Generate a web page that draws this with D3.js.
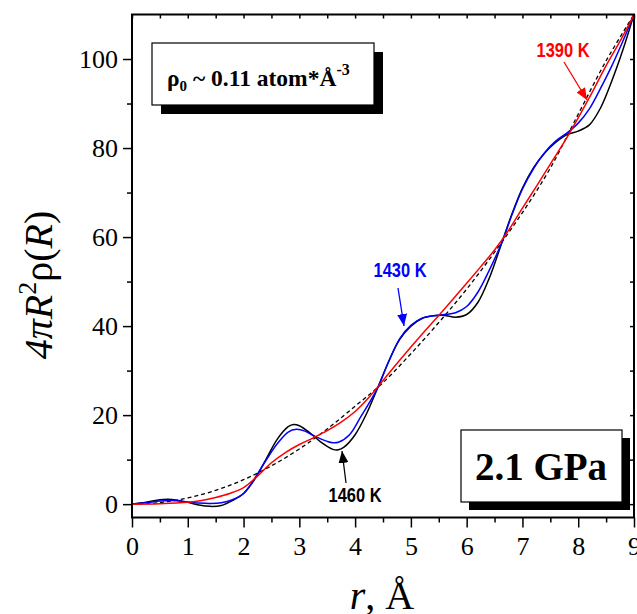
<!DOCTYPE html>
<html>
<head>
<meta charset="utf-8">
<script src="https://cdn.jsdelivr.net/npm/d3@7"></script>
<style>
  body { margin: 0; background: #fff; }
  svg { display: block; }
</style>
</head>
<body>
<svg width="637" height="614"></svg>
<script>
// 1460 K (black)
const r1460 = [0, 0.25, 0.5, 0.65, 0.8, 1.0, 1.2, 1.4, 1.6, 1.8, 2.0, 2.2, 2.4, 2.6, 2.8, 2.9, 3.0, 3.2, 3.4, 3.6, 3.7, 3.8, 4.0, 4.2, 4.4, 4.6, 4.8, 5.0, 5.2, 5.4, 5.6, 5.8, 6.0, 6.2, 6.4, 6.6, 6.8, 7.0, 7.2, 7.4, 7.6, 7.8, 8.0, 8.2, 8.4, 8.6, 8.8, 9.0];
const g1460 = [0, 0.4, 1.0, 1.1, 0.9, 0.4, -0.2, -0.5, -0.3, 0.8, 2.4, 5.6, 10.0, 14.5, 17.4, 17.9, 17.6, 15.9, 13.8, 12.3, 12.2, 12.8, 15.6, 20.2, 26.0, 32.0, 37.0, 40.0, 41.7, 42.3, 42.4, 42.0, 42.6, 45.3, 50.6, 57.6, 64.8, 71.0, 75.6, 78.9, 81.3, 83.0, 83.8, 85.2, 89.0, 95.0, 102.0, 110.0];

// 1430 K (blue)
const r1430 = [0, 0.25, 0.5, 0.7, 1.0, 1.2, 1.4, 1.6, 1.8, 2.0, 2.2, 2.4, 2.6, 2.8, 2.95, 3.1, 3.3, 3.5, 3.6, 3.7, 3.9, 4.1, 4.4, 4.6, 4.8, 5.0, 5.2, 5.4, 5.6, 5.8, 6.0, 6.2, 6.4, 6.65, 6.8, 7.0, 7.2, 7.4, 7.6, 7.8, 8.0, 8.2, 8.4, 8.6, 8.8, 9.0];
const g1430 = [0, 0.3, 0.7, 0.8, 0.5, 0.25, 0.15, 0.3, 1.0, 2.4, 5.8, 9.8, 13.5, 16.2, 16.8, 16.4, 15.1, 14.1, 13.8, 13.9, 15.6, 19.6, 26.0, 32.0, 37.2, 40.2, 41.8, 42.3, 42.6, 43.0, 44.4, 47.6, 52.4, 59.4, 64.6, 70.8, 75.4, 79.0, 81.6, 83.4, 85.6, 88.8, 93.4, 98.4, 104.0, 110.0];

// 1390 K (red)
const r1390 = [0, 0.5, 1.0, 1.25, 1.5, 1.75, 2.0, 2.25, 2.5, 2.75, 3.0, 3.25, 3.5, 3.75, 4.0, 4.25, 4.5, 4.75, 5.0, 5.25, 5.5, 5.75, 6.0, 6.25, 6.5, 6.75, 7.0, 7.25, 7.5, 7.75, 8.0, 8.25, 8.5, 8.75, 9.0];
const g1390 = [0, 0.1, 0.4, 0.8, 1.5, 2.4, 3.7, 6.3, 9.3, 11.6, 13.4, 14.9, 16.5, 18.4, 20.8, 24.0, 27.8, 31.6, 35.3, 38.9, 42.4, 46.0, 49.6, 53.3, 57.1, 61.5, 66.5, 71.4, 76.4, 81.4, 86.8, 92.5, 98.5, 104.0, 110.0];

// average density (dashed)
const rAvg = [0, 0.5, 1, 1.5, 2, 2.5, 3, 3.5, 4, 4.5, 5, 5.5, 6, 6.5, 7, 7.5, 8, 8.5, 9];
const gAvg = [0, 0.35, 1.4, 3.1, 5.5, 8.6, 12.4, 16.9, 22.0, 27.3, 33.8, 40.8, 48.3, 56.6, 65.5, 75.5, 87.6, 99.6, 110];

const xTicks = [0, 1, 2, 3, 4, 5, 6, 7, 8, 9];
const yTicks = [0, 20, 40, 60, 80, 100];

const svg = d3.select('svg');
const plotLeft = 132, plotRight = 634, plotTop = 14.5, plotBottom = 517.5;

const x = d3.scaleLinear().domain([0, 9]).range([plotLeft, plotRight]);
const y = d3.scaleLinear().domain([-3, 110]).range([plotBottom, plotTop]);

const serif = '"Liberation Serif", "Times New Roman", serif';
const sans = '"Liberation Sans", Arial, sans-serif';

const defs = svg.append('defs');
defs.append('clipPath').attr('id', 'plot')
    .append('rect')
    .attr('x', plotLeft).attr('y', plotTop)
    .attr('width', plotRight - plotLeft).attr('height', plotBottom - plotTop);

// curves
const line = d3.line()
    .x(function (d) { return x(d[0]); })
    .y(function (d) { return y(d[1]); })
    .curve(d3.curveCatmullRom.alpha(0.5));

const series = [
    {r: rAvg, g: gAvg, color: '#000', width: 1.3, dash: '4,3'},
    {r: r1460, g: g1460, color: '#000', width: 1.5},
    {r: r1430, g: g1430, color: '#0000ff', width: 1.5},
    {r: r1390, g: g1390, color: '#ff0000', width: 1.5}
];

const curves = svg.append('g').attr('clip-path', 'url(#plot)');
series.forEach(function (s) {
    curves.append('path')
        .datum(s.r.map(function (r, i) { return [r, s.g[i]]; }))
        .attr('d', line)
        .attr('fill', 'none')
        .attr('stroke', s.color)
        .attr('stroke-width', s.width)
        .attr('stroke-dasharray', s.dash || null);
});

// axes
function styleAxis(g) {
    g.select('.domain').remove();
    g.selectAll('line').attr('stroke', '#000').attr('stroke-width', 1.5);
    g.selectAll('text').attr('font-family', serif).attr('font-size', 26).attr('fill', '#000');
}

const xAxis = svg.append('g').attr('transform', `translate(0,${plotBottom})`)
    .call(d3.axisBottom(x).tickValues(xTicks).tickFormat(d3.format('d')).tickSize(10).tickPadding(10));
styleAxis(xAxis);
xAxis.selectAll('text').attr('dy', '0.71em').attr('y', 19);

svg.append('g').attr('transform', `translate(0,${plotBottom})`)
    .call(d3.axisBottom(x).tickValues(d3.range(0.5, 9, 1)).tickFormat('').tickSize(5))
    .call(styleAxis);

const yAxis = svg.append('g').attr('transform', `translate(${plotLeft},0)`)
    .call(d3.axisLeft(y).tickValues(yTicks).tickSize(9).tickPadding(5));
styleAxis(yAxis);

svg.append('g').attr('transform', `translate(${plotLeft},0)`)
    .call(d3.axisLeft(y).tickValues(d3.range(10, 110, 20)).tickFormat('').tickSize(5))
    .call(styleAxis);

// top and right: inward ticks
svg.append('g').attr('transform', `translate(0,${plotTop})`)
    .call(d3.axisTop(x).tickValues(d3.range(0, 9.01, 0.5)).tickFormat('').tickSize(-4))
    .call(styleAxis);
svg.append('g').attr('transform', `translate(${plotRight},0)`)
    .call(d3.axisRight(y).tickValues(d3.range(0, 110, 10)).tickFormat('').tickSize(-4))
    .call(styleAxis);

svg.append('rect')
    .attr('x', plotLeft).attr('y', plotTop)
    .attr('width', plotRight - plotLeft).attr('height', plotBottom - plotTop)
    .attr('fill', 'none').attr('stroke', '#000').attr('stroke-width', 2);

// axis titles
const yt = svg.append('text')
    .attr('transform', 'translate(52,285) rotate(-90)')
    .attr('text-anchor', 'middle')
    .attr('font-family', serif).attr('font-size', 40);
yt.append('tspan').attr('font-style', 'italic').text('4πR');
yt.append('tspan').attr('font-size', 26).attr('dy', -16).text('2');
yt.append('tspan').attr('dy', 16).text('ρ(');
yt.append('tspan').attr('font-style', 'italic').text('R');
yt.append('tspan').text(')');

const xt = svg.append('text')
    .attr('x', 382).attr('y', 609)
    .attr('text-anchor', 'middle')
    .attr('font-family', serif).attr('font-size', 40);
xt.append('tspan').attr('font-style', 'italic').text('r');
xt.append('tspan').text(', Å');

// boxes with shadows
function shadowBox(x0, y0, w, h, off) {
    svg.append('rect').attr('x', x0 + off).attr('y', y0 + off)
        .attr('width', w).attr('height', h).attr('fill', '#000');
    svg.append('rect').attr('x', x0).attr('y', y0)
        .attr('width', w).attr('height', h)
        .attr('fill', '#fff').attr('stroke', '#000').attr('stroke-width', 1.2);
}

shadowBox(152, 43, 222, 62, 9);
const rho = svg.append('text')
    .attr('x', 167).attr('y', 86)
    .attr('font-family', serif).attr('font-size', 23.5).attr('font-weight', 'bold');
rho.append('tspan').text('ρ');
rho.append('tspan').attr('font-size', 15).attr('dy', 5).text('0');
rho.append('tspan').attr('dy', -5).text(' ~ 0.11 atom*Å');
rho.append('tspan').attr('font-size', 16).attr('dy', -11).text('-3');

shadowBox(461, 430, 161, 72, 8);
svg.append('text')
    .attr('x', 541).attr('y', 480)
    .attr('text-anchor', 'middle')
    .attr('font-family', serif).attr('font-size', 39).attr('font-weight', 'bold')
    .text('2.1 GPa');

// annotations
['#ff0000', '#0000ff', '#000'].forEach(function (c, i) {
    defs.append('marker')
        .attr('id', 'arrow' + i)
        .attr('viewBox', '0 0 12 10')
        .attr('refX', 12).attr('refY', 5)
        .attr('markerWidth', 12).attr('markerHeight', 10)
        .attr('markerUnits', 'userSpaceOnUse')
        .attr('orient', 'auto')
        .append('path').attr('d', 'M0,0 L12,5 L0,10 Z').attr('fill', c);
});

const notes = [
    {label: '1390 K', color: '#ff0000', tx: 563, ty: 57, x1: 564, y1: 62, x2: 587, y2: 100},
    {label: '1430 K', color: '#0000ff', tx: 400, ty: 277, x1: 398, y1: 288, x2: 404, y2: 326},
    {label: '1460 K', color: '#000', tx: 355, ty: 502, x1: 346, y1: 483, x2: 342, y2: 451}
];

notes.forEach(function (n, i) {
    svg.append('text')
        .attr('x', n.tx).attr('y', n.ty)
        .attr('text-anchor', 'middle')
        .attr('font-family', sans).attr('font-size', 20).attr('font-weight', 'bold')
        .attr('textLength', 53).attr('lengthAdjust', 'spacingAndGlyphs')
        .attr('fill', n.color)
        .text(n.label);
    svg.append('line')
        .attr('x1', n.x1).attr('y1', n.y1).attr('x2', n.x2).attr('y2', n.y2)
        .attr('stroke', n.color).attr('stroke-width', 1.3)
        .attr('marker-end', `url(#arrow${i})`);
});
</script>
</body>
</html>
